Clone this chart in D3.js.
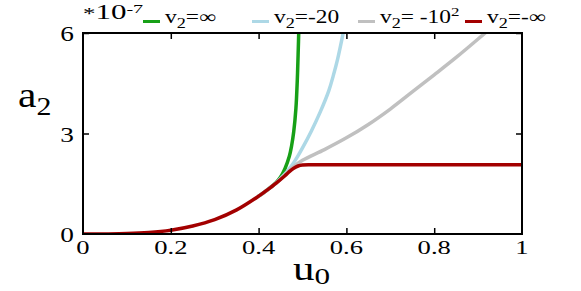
<!DOCTYPE html>
<html>
<head>
<meta charset="utf-8">
<script src="https://cdn.jsdelivr.net/npm/d3@7"></script>
<style>
  body { margin: 0; background: #fff; }
  text { font-family: "Liberation Serif", "Times New Roman", serif; fill: #000; }
</style>
</head>
<body>
<svg id="chart" width="581" height="291"></svg>
<script>
// data (a2 in units of 1e-7)
var uBase  = [0, 0.05, 0.1, 0.15, 0.2, 0.25, 0.3, 0.35, 0.4, 0.42, 0.44, 0.46, 0.47, 0.48, 0.49, 0.5, 0.53, 0.6, 1];
var aRed   = [0, 0.002, 0.012, 0.045, 0.115, 0.24, 0.43, 0.72, 1.13, 1.32, 1.52, 1.74, 1.86, 1.96, 2.03, 2.06, 2.065, 2.065, 2.065];
var uGreen = [0.4, 0.42, 0.44, 0.45, 0.46, 0.47, 0.475, 0.48, 0.485, 0.488, 0.49, 0.492];
var aGreen = [1.13, 1.32, 1.54, 1.7, 1.95, 2.32, 2.62, 3.05, 3.75, 4.55, 5.35, 6.3];
var uBlue  = [0.4, 0.42, 0.44, 0.46, 0.47, 0.48, 0.49, 0.5, 0.52, 0.54, 0.56, 0.57, 0.58, 0.595];
var aBlue  = [1.13, 1.32, 1.53, 1.79, 1.95, 2.13, 2.34, 2.57, 3.07, 3.63, 4.28, 4.72, 5.22, 6.15];
var uGray  = [0.4, 0.42, 0.44, 0.46, 0.48, 0.5, 0.55, 0.6, 0.65, 0.7, 0.75, 0.8, 0.85, 0.9, 0.93];
var aGray  = [1.13, 1.32, 1.52, 1.76, 2.01, 2.2, 2.52, 2.87, 3.27, 3.73, 4.24, 4.75, 5.27, 5.82, 6.16];
var xTicks = [0, 0.2, 0.4, 0.6, 0.8, 1];
var yTicks = [0, 3, 6];

var cGreen = "#17a017", cBlue = "#add8e6", cGray = "#c0c0c0", cRed = "#a30000";

var svg = d3.select("#chart");
var x = d3.scaleLinear().domain([0, 1]).range([83, 522]);
var y = d3.scaleLinear().domain([0, 6]).range([234, 33]);

function txt(g, px, py, size, anchor, sx){
    return g.append("text")
        .attr("transform", "translate(" + px + "," + py + ") scale(" + (sx || 1.3) + ",1)")
        .attr("text-anchor", anchor || "start")
        .style("font-size", size + "px");
}

svg.append("clipPath").attr("id", "clip")
  .append("rect").attr("x", 83).attr("y", 33).attr("width", 439).attr("height", 201);

/*
    curves
*/
var line = d3.line().x(function(d){ return x(d[0]); }).y(function(d){ return y(d[1]); })
    .curve(d3.curveCatmullRom.alpha(0.5));
var series = [
    [uGreen, aGreen, cGreen],
    [uBlue, aBlue, cBlue],
    [uGray, aGray, cGray],
    [uBase, aRed, cRed]
];
svg.append("g").attr("clip-path", "url(#clip)")
  .selectAll("path").data(series).enter().append("path")
    .attr("d", function(s){ return line(d3.zip(s[0], s[1])); })
    .attr("fill", "none")
    .attr("stroke", function(s){ return s[2]; })
    .attr("stroke-width", 3.5)
    .attr("stroke-linejoin", "round");

/*
    frame + inward ticks
*/
var ax = svg.append("g");
ax.append("g").attr("transform", "translate(0,234)")
  .call(d3.axisTop(x).tickValues([0.2, 0.4, 0.6, 0.8]).tickSize(6).tickFormat(""));
ax.append("g").attr("transform", "translate(0,33)")
  .call(d3.axisBottom(x).tickValues([0.2, 0.4, 0.6, 0.8]).tickSize(6).tickFormat(""));
ax.append("g").attr("transform", "translate(83,0)")
  .call(d3.axisRight(y).tickValues([3, 6]).tickSize(6).tickFormat(""));
ax.append("g").attr("transform", "translate(522,0)")
  .call(d3.axisLeft(y).tickValues([3, 6]).tickSize(6).tickFormat(""));
ax.selectAll(".domain").remove();
ax.selectAll(".tick line").attr("stroke", "#000").attr("stroke-width", 1.5);
svg.append("rect").attr("x", 83).attr("y", 33).attr("width", 439).attr("height", 201)
  .attr("fill", "none").attr("stroke", "#000").attr("stroke-width", 2);

/*
    tick labels
*/
xTicks.forEach(function(t){
    txt(svg, x(t), 254, 19, "middle", 1.4).text(t === 0 || t === 1 ? String(t) : d3.format(".1f")(t));
});
yTicks.forEach(function(t){
    txt(svg, 74, y(t) + 8, 21, "end", 1.3).text(String(t));
});

/*
    axis titles
*/
var ta = txt(svg, 18, 107, 36, "start", 1.15);
ta.append("tspan").text("a");
ta.append("tspan").attr("dy", 8).style("font-size", "26px").text("2");
var tu = txt(svg, 293, 280, 33, "start", 1.3);
tu.append("tspan").text("u");
tu.append("tspan").attr("dy", 4).style("font-size", "24px").text("0");

/*
    scale factor + legend
*/
var ts = txt(svg, 83, 19, 20, "start", 1.55);
ts.append("tspan").style("font-size", "16px").text("*");
ts.append("tspan").text("10");
ts.append("tspan").attr("dy", -6).style("font-size", "13px").text("-7");

var legend = [
    {color: cGreen, x0: 143, parts: ["v", "2", "=∞", ""]},
    {color: cBlue,  x0: 252, parts: ["v", "2", "=-20", ""]},
    {color: cGray,  x0: 358, parts: ["v", "2", "= -10", "2"]},
    {color: cRed,   x0: 465, parts: ["v", "2", "=-∞", ""]}
];
legend.forEach(function(l){
    svg.append("line").attr("x1", l.x0).attr("x2", l.x0 + 17)
        .attr("y1", 21.5).attr("y2", 21.5)
        .attr("stroke", l.color).attr("stroke-width", 3);
    var t = txt(svg, l.x0 + 22, 23, 18, "start", 1.3);
    t.append("tspan").text(l.parts[0]);
    t.append("tspan").attr("dy", 5).style("font-size", "14px").text(l.parts[1]);
    t.append("tspan").attr("dy", -5).text(l.parts[2]);
    if(l.parts[3])
        t.append("tspan").attr("dy", -7).style("font-size", "13px").text(l.parts[3]);
});
</script>
</body>
</html>
